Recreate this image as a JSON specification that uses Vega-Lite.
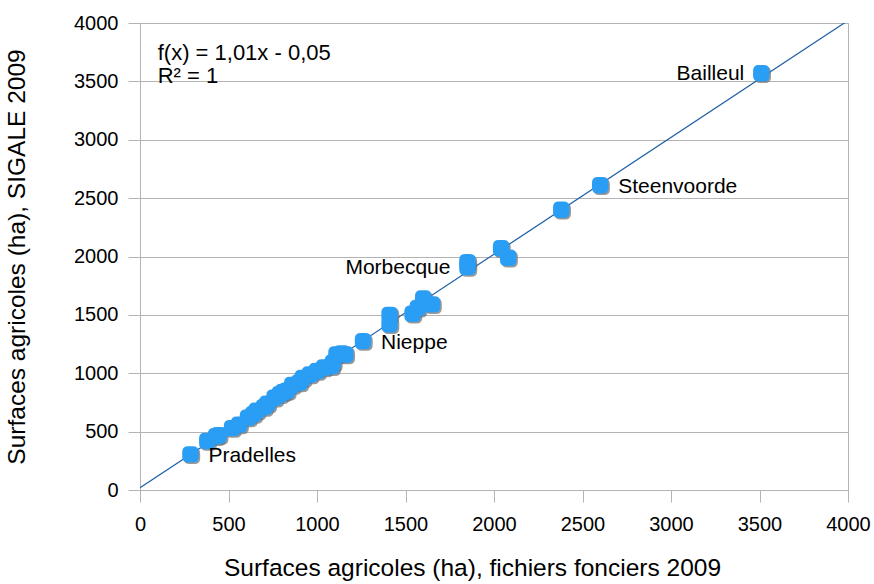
{
  "$schema": "https://vega.github.io/schema/vega-lite/v6.json",
  "width": 708,
  "height": 467,
  "autosize": "none",
  "padding": {"left": 140, "top": 23, "right": 26, "bottom": 94},
  "background": "white",
  "config": {
    "view": {"stroke": "#b3b3b3", "strokeWidth": 1},
    "font": "Liberation Sans",
    "axis": {
      "labelFont": "Liberation Sans",
      "titleFont": "Liberation Sans",
      "labelColor": "#000000",
      "titleColor": "#000000",
      "labelFontSize": 20,
      "titleFontSize": 24.5,
      "titleFontWeight": "normal",
      "domainColor": "#b3b3b3",
      "tickColor": "#b3b3b3",
      "gridColor": "#b3b3b3",
      "tickSize": 12,
      "format": "d"
    }
  },
  "datasets": {
    "points": [
      {"commune": "Pradelles", "ff": 285, "sigale": 305},
      {"commune": "", "ff": 380, "sigale": 420},
      {"commune": "", "ff": 430, "sigale": 460},
      {"commune": "", "ff": 445, "sigale": 470},
      {"commune": "", "ff": 520, "sigale": 530},
      {"commune": "", "ff": 560, "sigale": 560},
      {"commune": "", "ff": 610, "sigale": 620},
      {"commune": "", "ff": 640, "sigale": 650},
      {"commune": "", "ff": 660, "sigale": 680},
      {"commune": "", "ff": 700, "sigale": 710},
      {"commune": "", "ff": 720, "sigale": 740},
      {"commune": "", "ff": 760, "sigale": 790},
      {"commune": "", "ff": 790, "sigale": 820},
      {"commune": "", "ff": 810, "sigale": 840},
      {"commune": "", "ff": 830, "sigale": 850},
      {"commune": "", "ff": 860, "sigale": 900},
      {"commune": "", "ff": 900, "sigale": 920},
      {"commune": "", "ff": 920, "sigale": 960},
      {"commune": "", "ff": 960, "sigale": 990},
      {"commune": "", "ff": 1000, "sigale": 1020},
      {"commune": "", "ff": 1040, "sigale": 1050},
      {"commune": "", "ff": 1080, "sigale": 1060},
      {"commune": "", "ff": 1090, "sigale": 1090},
      {"commune": "", "ff": 1110, "sigale": 1160},
      {"commune": "", "ff": 1140, "sigale": 1170},
      {"commune": "", "ff": 1160, "sigale": 1160},
      {"commune": "Nieppe", "ff": 1260, "sigale": 1275},
      {"commune": "", "ff": 1410, "sigale": 1420},
      {"commune": "", "ff": 1410, "sigale": 1500},
      {"commune": "", "ff": 1540, "sigale": 1510},
      {"commune": "", "ff": 1570, "sigale": 1560},
      {"commune": "", "ff": 1600, "sigale": 1640},
      {"commune": "", "ff": 1650, "sigale": 1590},
      {"commune": "", "ff": 1850, "sigale": 1950},
      {"commune": "Morbecque", "ff": 1850, "sigale": 1910},
      {"commune": "", "ff": 2040, "sigale": 2070},
      {"commune": "", "ff": 2080, "sigale": 1990},
      {"commune": "", "ff": 2380, "sigale": 2400},
      {"commune": "Steenvoorde", "ff": 2600, "sigale": 2610},
      {"commune": "Bailleul", "ff": 3510, "sigale": 3570}
    ],
    "equation": [
      {"label": "f(x) = 1,01x - 0,05", "ff": 100, "sigale": 3745},
      {"label": "R² = 1", "ff": 100, "sigale": 3545}
    ]
  },
  "data": {"name": "points"},
  "encoding": {
    "x": {
      "field": "ff",
      "type": "quantitative",
      "scale": {"domain": [0, 4000], "nice": false},
      "axis": {
        "title": "Surfaces agricoles (ha), fichiers fonciers 2009",
        "values": [0, 500, 1000, 1500, 2000, 2500, 3000, 3500, 4000],
        "grid": false,
        "labelPadding": 12,
        "titlePadding": 22,
        "titleX": 332,
        "titleAlign": "center",
        "labelFlush": false
      }
    },
    "y": {
      "field": "sigale",
      "type": "quantitative",
      "scale": {"domain": [0, 4000], "nice": false},
      "axis": {
        "title": "Surfaces agricoles (ha), SIGALE 2009",
        "values": [0, 500, 1000, 1500, 2000, 2500, 3000, 3500, 4000],
        "grid": true,
        "labelPadding": 10,
        "titlePadding": 44,
        "labelFlush": false
      }
    }
  },
  "layer": [
    {
      "transform": [{"regression": "sigale", "on": "ff", "extent": [0, 4000]}],
      "mark": {"type": "line", "color": "#1f5fa6", "strokeWidth": 1.2, "clip": true}
    },
    {
      "mark": {
        "type": "point",
        "filled": true,
        "shape": "M -0.3 -1 L 0.3 -1 Q 1 -1 1 -0.3 L 1 0.3 Q 1 1 0.3 1 L -0.3 1 Q -1 1 -1 0.3 L -1 -0.3 Q -1 -1 -0.3 -1 Z",
        "size": 270,
        "color": "#6e6e6e",
        "opacity": 0.7,
        "xOffset": 1.5,
        "yOffset": 1.5
      }
    },
    {
      "mark": {
        "type": "point",
        "filled": true,
        "shape": "M -0.3 -1 L 0.3 -1 Q 1 -1 1 -0.3 L 1 0.3 Q 1 1 0.3 1 L -0.3 1 Q -1 1 -1 0.3 L -1 -0.3 Q -1 -1 -0.3 -1 Z",
        "size": 270,
        "color": "#2a9df4",
        "opacity": 1
      }
    },
    {
      "transform": [{"filter": {"field": "commune", "oneOf": ["Pradelles", "Nieppe", "Steenvoorde"]}}],
      "mark": {"type": "text", "align": "left", "baseline": "middle", "dx": 18, "dy": 2, "fontSize": 21, "font": "Liberation Sans", "color": "#000000"},
      "encoding": {"text": {"field": "commune"}}
    },
    {
      "transform": [{"filter": {"field": "commune", "oneOf": ["Morbecque", "Bailleul"]}}],
      "mark": {"type": "text", "align": "right", "baseline": "middle", "dx": -17, "dy": 1, "fontSize": 21, "font": "Liberation Sans", "color": "#000000"},
      "encoding": {"text": {"field": "commune"}}
    },
    {
      "data": {"name": "equation"},
      "mark": {"type": "text", "align": "left", "baseline": "middle", "fontSize": 22, "font": "Liberation Sans", "color": "#000000"},
      "encoding": {
        "text": {"field": "label"}
      }
    }
  ]
}
